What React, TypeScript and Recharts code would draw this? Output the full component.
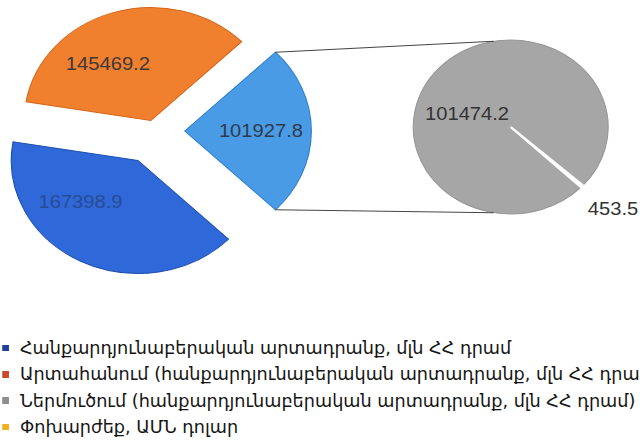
import React from 'react';
import {Cell, Pie, PieChart} from 'recharts';

// main pie: import slice first so it sits on the right, then export, then production
const mainNames = ['Ներմուծում', 'Արտահանում', 'Հանքարդյունաբերական արտադրանք'];
const mainValues = [101927.8, 145469.2, 167398.9];

// secondary pie (breakdown of the import slice)
const subNames = ['Ներմուծում', 'Փոխարժեք'];
const subValues = [101474.2, 453.5];

const legendLabels = [
  'Հանքարդյունաբերական արտադրանք, մլն ՀՀ դրամ',
  'Արտահանում (հանքարդյունաբերական արտադրանք, մլն ՀՀ դրամ)',
  'Ներմուծում (հանքարդյունաբերական արտադրանք, մլն ՀՀ դրամ)',
  'Փոխարժեք, ԱՄՆ դոլար',
];

const mainFill = ['#4a9be6', '#f07f2e', '#2f68d8'];
const mainStroke = ['#2d7dd0', '#d5661a', '#1f4fae'];
const mainLabelColor = ['#2f3b4c', '#3d3a38', '#2a4c94'];
const legendColors = ['#1f3f99', '#c9482a', '#8e8e8e', '#f2b01e'];

const STRETCH = 1.12; // the source image is stretched horizontally
const W = 572;
const H = 300;

const LEFT = {x: 138, y: 131, r: 113};
const RIGHT = {x: 456, y: 127, r: 87};
const explode = [27, 11, 33];
const labelShift = [0, 17, -24];
const labelDist = [68, 68, 66];
const TINY_DIR = -43;

const RAD = Math.PI / 180;
const leftTotal = mainValues.reduce((a, b) => a + b, 0);
const leftStart = -(mainValues[0] / leftTotal) * 180;
const subTotal = subValues.reduce((a, b) => a + b, 0);
const subStart = TINY_DIR + (subValues[1] / subTotal) * 180;

const leftData = mainNames.map((name, i) => ({name, value: mainValues[i]}));
const subData = subNames.map((name, i) => ({name, value: subValues[i]}));

const sliceMid = (i: number) => {
  let cum = 0;
  for (let j = 0; j < i; j++) cum += mainValues[j];
  return leftStart + ((cum + mainValues[i] / 2) / leftTotal) * 360;
};

const polar = (cx: number, cy: number, r: number, a: number) => ({
  x: cx + r * Math.cos(a * RAD),
  y: cy - r * Math.sin(a * RAD),
});

const fmt = (v: number) => v.toFixed(1);

const makeLabel = (slice: number) => (props: any) => {
  const {cx, cy, midAngle, index, value, outerRadius, startAngle, endAngle} = props;
  if (index !== slice) return null;
  const p = polar(cx, cy, labelDist[slice], midAngle + labelShift[slice]);
  const text = (
    <text
      key="t"
      x={p.x}
      y={p.y}
      textAnchor="middle"
      dominantBaseline="central"
      fill={mainLabelColor[slice]}
      fontSize={18}
      fontFamily="'Liberation Sans', Arial, sans-serif"
    >
      {fmt(value)}
    </text>
  );
  if (slice !== 0) return text;
  // connector lines from the import slice to the secondary pie
  const a = polar(cx, cy, outerRadius, endAngle);
  const b = polar(cx, cy, outerRadius, startAngle);
  const ta = polar(RIGHT.x, RIGHT.y, RIGHT.r, 100);
  const tb = polar(RIGHT.x, RIGHT.y, RIGHT.r, 260);
  return (
    <g key={`c${slice}`}>
      <line x1={a.x} y1={a.y} x2={ta.x} y2={ta.y} stroke="#444" strokeWidth={1} />
      <line x1={b.x} y1={b.y} x2={tb.x} y2={tb.y} stroke="#444" strokeWidth={1} />
      {text}
    </g>
  );
};

const subLabel = (props: any) => {
  const {cx, cy, midAngle, index, value} = props;
  const p =
    index === 0 ? polar(cx, cy, 41, midAngle + 25) : polar(cx, cy, 123, midAngle + 1);
  return (
    <text
      x={p.x}
      y={p.y}
      textAnchor="middle"
      dominantBaseline="central"
      fill="#333"
      fontSize={18}
      fontFamily="'Liberation Sans', Arial, sans-serif"
    >
      {fmt(value)}
    </text>
  );
};

export default function App() {
  return (
    <div
      style={{
        position: 'fixed',
        left: 0,
        top: 0,
        width: 640,
        height: 446,
        overflow: 'hidden',
        background: '#fff',
      }}
    >
      <div style={{width: W, height: 446, transform: `scaleX(${STRETCH})`, transformOrigin: '0 0', position: 'relative'}}>
        <PieChart width={W} height={H} margin={{top: 0, right: 0, bottom: 0, left: 0}}>
          {mainValues.map((_, i) => {
            const mid = sliceMid(i);
            const c = polar(LEFT.x, LEFT.y, explode[i], mid);
            return (
              <Pie
                key={i}
                data={leftData}
                dataKey="value"
                cx={c.x}
                cy={c.y}
                outerRadius={LEFT.r}
                startAngle={leftStart}
                endAngle={leftStart + 360}
                label={makeLabel(i)}
                labelLine={false}
                isAnimationActive={false}
              >
                {leftData.map((d, j) => (
                  <Cell
                    key={d.name}
                    fill={j === i ? mainFill[j] : 'none'}
                    stroke={j === i ? mainStroke[j] : 'none'}
                    strokeWidth={1}
                  />
                ))}
              </Pie>
            );
          })}
          <Pie
            data={subData}
            dataKey="value"
            cx={RIGHT.x}
            cy={RIGHT.y}
            outerRadius={RIGHT.r}
            startAngle={subStart}
            endAngle={subStart + 360}
            label={subLabel}
            labelLine={false}
            isAnimationActive={false}
          >
            <Cell fill="#a6a6a6" stroke="#979797" strokeWidth={1} />
            <Cell fill="#ffffff" stroke="#ffffff" strokeWidth={2} />
          </Pie>
        </PieChart>
        <div
          style={{
            position: 'absolute',
            left: 2,
            top: 335,
            fontFamily: "'DejaVu Sans Condensed', 'DejaVu Sans', sans-serif",
            fontSize: 17.5,
            lineHeight: '26.3px',
            color: '#151515',
            whiteSpace: 'nowrap',
          }}
        >
          {legendLabels.map((t, i) => (
            <div key={t} style={{display: 'flex', alignItems: 'center'}}>
              <span
                style={{
                  display: 'inline-block',
                  width: 5.5,
                  height: 6.5,
                  background: legendColors[i],
                  marginRight: 10.3,
                }}
              />
              <span>{t}</span>
            </div>
          ))}
        </div>
      </div>
    </div>
  );
}
